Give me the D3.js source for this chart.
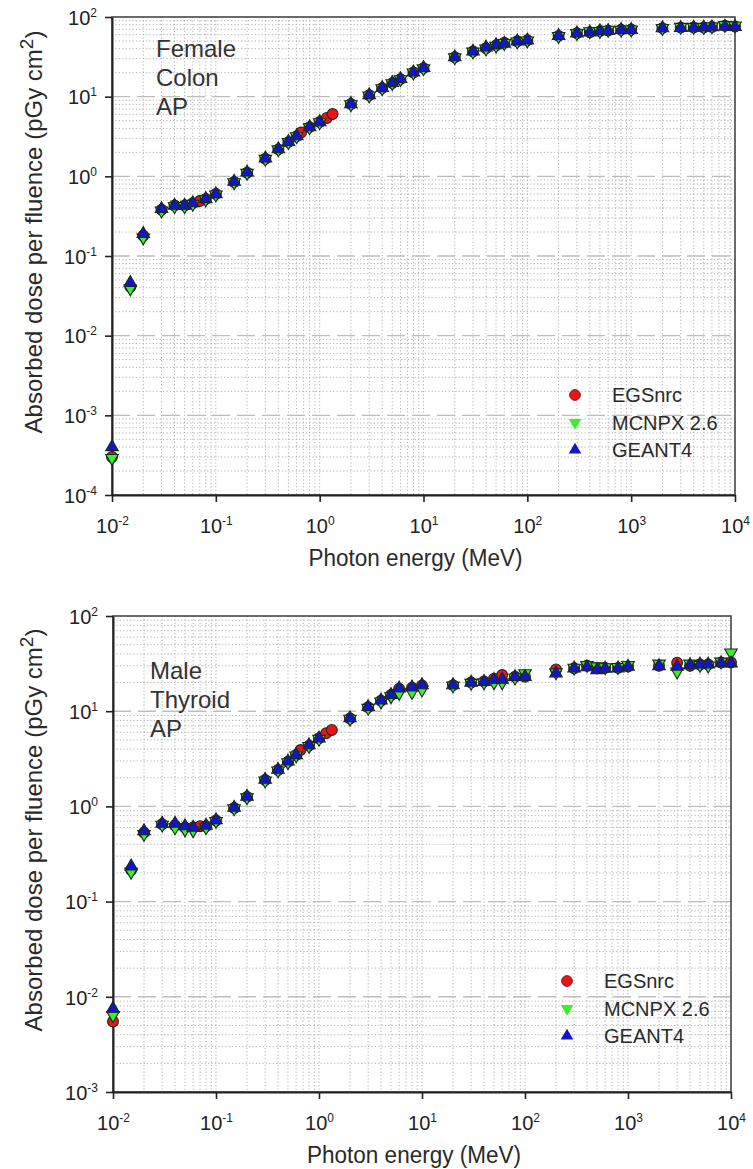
<!DOCTYPE html>
<html>
<head>
<meta charset="utf-8">
<script src="https://cdn.jsdelivr.net/npm/d3@7"></script>
<style>
  body { margin: 0; background: #fff; }
  svg { display: block; font-family: "Liberation Sans", Arial, Helvetica, sans-serif; }
</style>
</head>
<body>
<svg id="fig" width="753" height="1169"></svg>
<script>
// Photon energies (MeV) computed by MCNPX 2.6 and GEANT4
const energies = [0.01, 0.015, 0.02, 0.03, 0.04, 0.05, 0.06, 0.08, 0.1,
  0.15, 0.2, 0.3, 0.4, 0.5, 0.6, 0.8, 1,
  2, 3, 4, 5, 6, 8, 10,
  20, 30, 40, 50, 60, 80, 100,
  200, 300, 400, 500, 600, 800, 1000,
  2000, 3000, 4000, 5000, 6000, 8000, 10000];

// EGSnrc adds a few source lines (0.07, Cs-137, Co-60)
const egsEnergies = [0.01, 0.015, 0.02, 0.03, 0.04, 0.05, 0.06, 0.07, 0.08, 0.1,
  0.15, 0.2, 0.3, 0.4, 0.5, 0.6, 0.662, 0.8, 1, 1.173, 1.332,
  2, 3, 4, 5, 6, 8, 10,
  20, 30, 40, 50, 60, 80, 100,
  200, 300, 400, 500, 600, 800, 1000,
  2000, 3000, 4000, 5000, 6000, 8000, 10000];

// Female colon, AP irradiation (pGy cm^2)
const colonEGSnrc = [0.00030, 0.041, 0.18, 0.38, 0.43, 0.43, 0.46, 0.49, 0.52, 0.60,
  0.85, 1.11, 1.66, 2.18, 2.69, 3.19, 3.55, 4.15, 4.8, 5.4, 6.05,
  8.1, 10.4, 12.8, 14.8, 16.6, 20.1, 22.8,
  31.3, 36.9, 40.5, 44, 47.5, 49.5, 51,
  58, 62.5, 64.5, 66.5, 67.5, 69, 69.5,
  72.5, 73.5, 74, 74, 75, 77.5, 76];
const colonMCNPX = [0.00029, 0.039, 0.17, 0.37, 0.42, 0.42, 0.45, 0.51, 0.59,
  0.84, 1.10, 1.65, 2.17, 2.68, 3.17, 4.1, 4.75,
  8.0, 10.3, 12.7, 14.7, 16.5, 20.0, 22.6,
  31.0, 36.6, 40.0, 43.5, 47, 49, 50.5,
  57.5, 62.5, 66, 66.5, 69, 69, 69.5,
  72.5, 75, 75, 74.5, 76, 79, 78];
const colonGEANT4 = [0.00040, 0.046, 0.19, 0.39, 0.43, 0.43, 0.46, 0.52, 0.60,
  0.86, 1.12, 1.68, 2.20, 2.72, 3.20, 4.15, 4.8,
  8.1, 10.5, 12.9, 14.9, 16.7, 20.2, 23.0,
  31.3, 37.0, 41.5, 44.5, 46.5, 49.5, 51,
  58, 62.5, 64, 66.5, 67, 69, 69,
  72.5, 73, 73.5, 74, 74.5, 76, 75];

// Male thyroid, AP irradiation (pGy cm^2)
const thyroidEGSnrc = [0.0055, 0.215, 0.53, 0.65, 0.63, 0.60, 0.60, 0.62, 0.62, 0.71,
  0.96, 1.26, 1.89, 2.41, 2.95, 3.47, 3.91, 4.35, 5.19, 5.86, 6.35,
  8.4, 11.0, 12.9, 14.8, 17.2, 17.6, 18.6,
  18.8, 20, 20.5, 22, 24, 23, 23,
  27.5, 28.2, 30, 28.5, 28.5, 28.5, 29.5,
  30, 32.4, 30, 31, 31, 32.5, 32.5];
const thyroidMCNPX = [0.0064, 0.205, 0.51, 0.64, 0.60, 0.57, 0.56, 0.60, 0.70,
  0.95, 1.24, 1.86, 2.38, 2.9, 3.42, 4.3, 5.1,
  8.3, 10.8, 12.6, 14.3, 15.5, 15.8, 16.8,
  18.5, 19.8, 20, 20, 20, 22.5, 25,
  25.5, 28.5, 30.5, 29.5, 28.9, 29, 30.5,
  31.5, 26, 31.5, 30.5, 30, 33.1, 41.2];
const thyroidGEANT4 = [0.0075, 0.235, 0.55, 0.66, 0.66, 0.62, 0.60, 0.63, 0.72,
  0.97, 1.27, 1.91, 2.43, 2.97, 3.47, 4.4, 5.2,
  8.45, 11.1, 13.0, 14.9, 17.4, 17.8, 18.8,
  18.8, 20, 20.4, 21.3, 21.5, 23, 23,
  25, 28.2, 29, 27.1, 28, 28.2, 29.4,
  29.8, 29.5, 30.5, 31, 31, 32, 31.9];

// Axis tick exponents and labels
const xExponents = [-2, -1, 0, 1, 2, 3, 4];
const colonYExponents = [-4, -3, -2, -1, 0, 1, 2];
const thyroidYExponents = [-3, -2, -1, 0, 1, 2];
const seriesNames = ["EGSnrc", "MCNPX 2.6", "GEANT4"];
const xTitle = "Photon energy (MeV)";
const yTitle = "Absorbed dose per fluence (pGy cm";

const colors = { EGSnrc: "#e8141a", "MCNPX 2.6": "#3af02a", GEANT4: "#1414c8" };

const svg = d3.select("#fig");

const panels = [
  {
    label: ["Female", "Colon", "AP"], labelX: 156, labelY: 57,
    left: 112, right: 735, top: 17, bottom: 495,
    yExp: colonYExponents,
    series: [
      { name: "EGSnrc", x: egsEnergies, y: colonEGSnrc },
      { name: "MCNPX 2.6", x: energies, y: colonMCNPX },
      { name: "GEANT4", x: energies, y: colonGEANT4 }
    ],
    legendX: 575, legendY: 395, textX: 612
  },
  {
    label: ["Male", "Thyroid", "AP"], labelX: 150, labelY: 679,
    left: 113, right: 731, top: 616, bottom: 1092,
    yExp: thyroidYExponents,
    series: [
      { name: "EGSnrc", x: egsEnergies, y: thyroidEGSnrc },
      { name: "MCNPX 2.6", x: energies, y: thyroidMCNPX },
      { name: "GEANT4", x: energies, y: thyroidGEANT4 }
    ],
    legendX: 567, legendY: 981, textX: 604
  }
];

function markerPath(name) {
  if (name === "EGSnrc") return d3.symbol(d3.symbolCircle, 92)();
  return d3.symbol(d3.symbolTriangle, 68)();
}
function markerRot(name) { return name === "MCNPX 2.6" ? " rotate(180)" : ""; }

function powerLabel(sel, exp) {
  sel.text(null);
  sel.append("tspan").text("10");
  sel.append("tspan").attr("dy", "-8").attr("font-size", "12px").text(String(exp));
}

panels.forEach(p => {
  const x = d3.scaleLog().domain([1e-2, 1e4]).range([p.left, p.right]);
  const y = d3.scaleLog()
    .domain([Math.pow(10, d3.min(p.yExp)), Math.pow(10, d3.max(p.yExp))])
    .range([p.bottom, p.top]);
  const g = svg.append("g");

  // minor grid (dotted) for every 1..9 x 10^k
  const xMinor = [];
  for (let e = -2; e < 4; e++) for (let m = 1; m <= 9; m++) xMinor.push(m * Math.pow(10, e));
  const yMinor = [];
  for (let e = d3.min(p.yExp); e < d3.max(p.yExp); e++)
    for (let m = 2; m <= 9; m++) yMinor.push(m * Math.pow(10, e));

  g.append("g").selectAll("line").data(xMinor.slice(1)).join("line")
    .attr("x1", d => x(d)).attr("x2", d => x(d))
    .attr("y1", p.top).attr("y2", p.bottom)
    .attr("stroke", "#b0b0b0").attr("stroke-width", 1)
    .attr("stroke-dasharray", "1.2,2.2");
  g.append("g").selectAll("line").data(yMinor).join("line")
    .attr("x1", p.left).attr("x2", p.right)
    .attr("y1", d => y(d)).attr("y2", d => y(d))
    .attr("stroke", "#b0b0b0").attr("stroke-width", 1)
    .attr("stroke-dasharray", "1.2,2.2");
  // major grid (dashed) at decades
  g.append("g").selectAll("line").data(p.yExp.slice(1, -1)).join("line")
    .attr("x1", p.left).attr("x2", p.right)
    .attr("y1", d => y(Math.pow(10, d))).attr("y2", d => y(Math.pow(10, d)))
    .attr("stroke", "#bdbdbd").attr("stroke-width", 1.4)
    .attr("stroke-dasharray", "18,7");

  // frame
  g.append("rect")
    .attr("x", p.left).attr("y", p.top)
    .attr("width", p.right - p.left).attr("height", p.bottom - p.top)
    .attr("fill", "none").attr("stroke", "#3a3a3a").attr("stroke-width", 1.5);

  // axes
  const xAxis = d3.axisBottom(x)
    .tickValues(xExponents.map(e => Math.pow(10, e)))
    .tickSize(7).tickSizeOuter(0).tickFormat(() => "");
  const gx = g.append("g").attr("transform", `translate(0,${p.bottom})`).call(xAxis);
  gx.select(".domain").attr("stroke", "#222").attr("stroke-width", 2);
  gx.selectAll(".tick line").attr("stroke", "#222").attr("stroke-width", 1.6);
  gx.selectAll(".tick text")
    .attr("y", 38).attr("dy", 0)
    .attr("fill", "#222").attr("font-size", "20px")
    .each(function (d) { powerLabel(d3.select(this), Math.round(Math.log10(d))); });

  const yAxis = d3.axisLeft(y)
    .tickValues(p.yExp.map(e => Math.pow(10, e)))
    .tickSize(7).tickSizeOuter(0).tickPadding(8).tickFormat(() => "");
  const gy = g.append("g").attr("transform", `translate(${p.left},0)`).call(yAxis);
  gy.select(".domain").attr("stroke", "#222").attr("stroke-width", 2);
  gy.selectAll(".tick line").attr("stroke", "#222").attr("stroke-width", 1.6);
  gy.selectAll(".tick text")
    .attr("dy", "0.36em").attr("fill", "#222").attr("font-size", "20px")
    .attr("text-anchor", "end")
    .each(function (d) { powerLabel(d3.select(this), Math.round(Math.log10(d))); });
  g.selectAll(".tick").attr("font-family", null);
  g.selectAll(".tick text").attr("font-family", null);
  g.selectAll("g").attr("font-family", null).attr("font-size", null);

  // axis titles
  g.append("text")
    .attr("x", (p.left + p.right) / 2 - 8)
    .attr("y", p.bottom + 71)
    .attr("text-anchor", "middle")
    .attr("font-size", "23px").attr("fill", "#2a2a2a")
    .attr("textLength", 214).attr("lengthAdjust", "spacingAndGlyphs")
    .text(xTitle);

  const yt = g.append("text")
    .attr("transform", `translate(42,${(p.top + p.bottom) / 2 - 24}) rotate(-90)`)
    .attr("text-anchor", "middle")
    .attr("font-size", "24px").attr("fill", "#2a2a2a");
  yt.append("tspan").text(yTitle);
  yt.append("tspan").attr("dy", "-9").attr("font-size", "19px").text("2");
  yt.append("tspan").attr("dy", "9").text(")");

  // panel label
  g.append("text")
    .attr("font-size", "24px").attr("fill", "#333")
    .selectAll("tspan").data(p.label).join("tspan")
    .attr("x", p.labelX).attr("y", (d, i) => p.labelY + i * 29)
    .text(d => d);

  // data markers: EGSnrc first, GEANT4 on top
  p.series.forEach(s => {
    g.append("g").selectAll("path")
      .data(s.x.map((e, i) => [e, s.y[i]]))
      .join("path")
      .attr("d", markerPath(s.name))
      .attr("transform", d => `translate(${x(d[0])},${y(d[1])})${markerRot(s.name)}`)
      .attr("fill", colors[s.name])
      .attr("stroke", "#1a2a1a").attr("stroke-width", 1.1);
  });

  // legend
  const lg = g.append("g");
  seriesNames.forEach((n, i) => {
    const cy = p.legendY + i * 27.5;
    lg.append("path")
      .attr("d", markerPath(n))
      .attr("transform", `translate(${p.legendX},${cy})${markerRot(n)}`)
      .attr("fill", colors[n]).attr("stroke", n === "EGSnrc" ? "#5a1010" : "none")
      .attr("stroke-width", 0.8);
    lg.append("text")
      .attr("x", p.textX).attr("y", cy + 7)
      .attr("font-size", "20px").attr("fill", "#2a2a2a")
      .text(n);
  });
});
</script>
</body>
</html>
